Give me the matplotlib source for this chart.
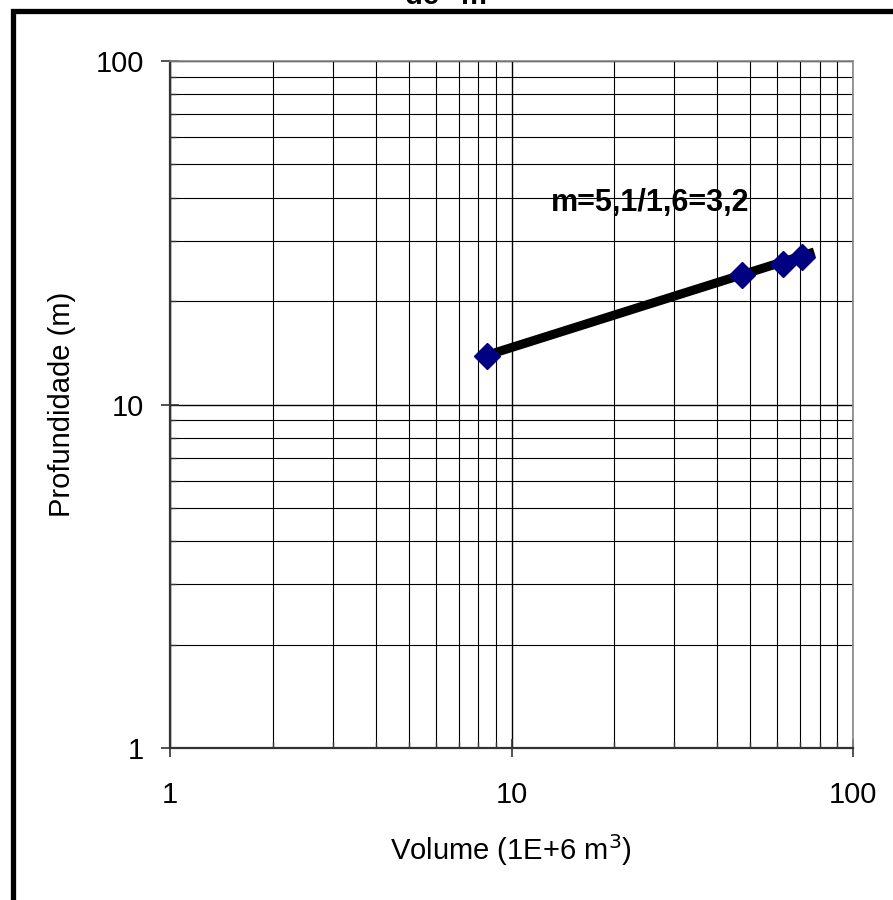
import matplotlib.pyplot as plt
import numpy as np
from matplotlib.patches import Rectangle
from matplotlib.ticker import LogLocator, NullFormatter, FixedLocator, FixedFormatter

plt.rcParams['font.family'] = ['Liberation Sans', 'DejaVu Sans']

# measured points (volume in 1E+6 m3, depth in m)
volume = [8.5, 47.3, 62.4, 70.9]
depth = [13.8, 23.8, 25.6, 26.9]

# fitted line end points
fit_x = [8.95, 77.0]
fit_y = [14.15, 27.8]

ticks = [1, 10, 100]
tick_labels = ["1", "10", "100"]

fig = plt.figure(figsize=(8.93, 9.0), dpi=100)
ax = fig.add_axes([170 / 893, 1 - 748 / 900, (853 - 170) / 893, (748 - 61) / 900])

ax.set_xscale('log')
ax.set_yscale('log')
ax.set_xlim(1, 100)
ax.set_ylim(1, 100)

ax.plot(fit_x, fit_y, color='black', lw=6.5, solid_capstyle='butt', zorder=3)
ax.plot(volume, depth, linestyle='none', marker='D', markersize=13.5,
        color='#000080', zorder=4)

ax.xaxis.set_major_locator(FixedLocator(ticks))
ax.xaxis.set_major_formatter(FixedFormatter(tick_labels))
ax.yaxis.set_major_locator(FixedLocator(ticks))
ax.yaxis.set_major_formatter(FixedFormatter(tick_labels))
ax.xaxis.set_minor_locator(LogLocator(base=10, subs=np.arange(2, 10)))
ax.yaxis.set_minor_locator(LogLocator(base=10, subs=np.arange(2, 10)))
ax.xaxis.set_minor_formatter(NullFormatter())
ax.yaxis.set_minor_formatter(NullFormatter())

ax.grid(True, which='major', color='black', lw=1.0)
ax.grid(True, which='minor', color='black', lw=0.8)
ax.set_axisbelow(True)

ax.tick_params(which='major', direction='inout', length=13, width=1.2,
               labelsize=21, color='#333333')
ax.tick_params(axis='x', which='major', pad=17)
ax.tick_params(axis='y', which='major', pad=12)
ax.tick_params(which='minor', direction='in', length=4, width=1, color='#333333')

for s in ['left', 'bottom']:
    ax.spines[s].set_color('#333333')
    ax.spines[s].set_linewidth(1.6)
for s in ['top', 'right']:
    ax.spines[s].set_color('#888888')
    ax.spines[s].set_linewidth(1.2)

ax.set_xlabel("Volume (1E+6 m$^3$)", fontsize=21)
ax.set_ylabel("Profundidade (m)", fontsize=21)
ax.xaxis.set_label_coords(0.499, -0.123)
ax.yaxis.set_label_coords(-0.137, 0.5)

ax.text(25.4, 38.6, "m=5,1/1,6=3,2", fontsize=22, fontweight='bold',
        ha='center', va='center', zorder=5)

# partly cut-off title at the top
fig.text(453 / 893, 1 - 4 / 900, 'de "m"', fontsize=21, fontweight='bold',
         ha='center', va='baseline')

# thick frame of the original chart area
fig.patches.append(Rectangle((12.5 / 893, -0.5), 2.0, 1 - 10.5 / 900 + 0.5,
                             transform=fig.transFigure, fill=False,
                             edgecolor='black', lw=3.8))

fig.savefig("out.png", dpi=100)
